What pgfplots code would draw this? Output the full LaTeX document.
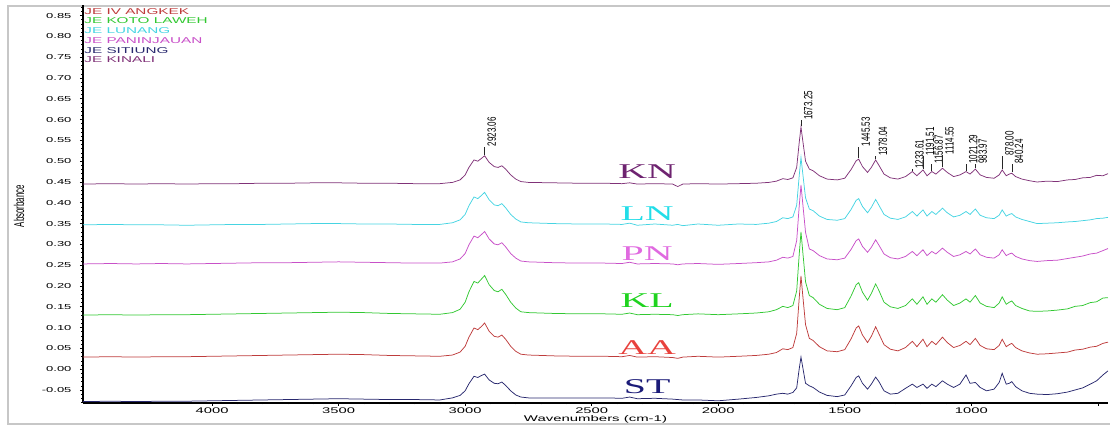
\documentclass[border=0pt]{standalone}
\usepackage{pgfplots}
\pgfplotsset{compat=1.18}
\usepackage{pgfplotstable}
\usepackage{fontspec}
\setmainfont{Liberation Sans}
\newfontfamily\wsans[FakeStretch=1.8]{Liberation Sans}
\newfontfamily\wserif[FakeStretch=1.9]{Liberation Serif}

\definecolor{cKN}{RGB}{128,50,120}
\definecolor{cLN}{RGB}{70,212,226}
\definecolor{cPN}{RGB}{200,80,200}
\definecolor{cKL}{RGB}{50,200,50}
\definecolor{cAA}{RGB}{190,60,60}
\definecolor{cST}{RGB}{40,40,110}
\definecolor{tKN}{RGB}{110,35,112}
\definecolor{tLN}{RGB}{34,221,232}
\definecolor{tPN}{RGB}{224,106,224}
\definecolor{tKL}{RGB}{31,211,31}
\definecolor{tAA}{RGB}{232,65,60}
\definecolor{tST}{RGB}{27,27,120}

% absorbance, one column per sample
\pgfplotstableread{
wn KN LN PN KL AA ST
4510 0.445 0.347 0.253 0.130 0.029 -0.078
4400 0.446 0.348 0.254 0.131 0.030 -0.077
4300 0.445 0.347 0.253 0.130 0.029 -0.078
4200 0.446 0.347 0.254 0.131 0.030 -0.077
4100 0.445 0.346 0.253 0.131 0.030 -0.077
4000 0.446 0.347 0.254 0.132 0.031 -0.076
3900 0.446 0.348 0.255 0.133 0.032 -0.075
3800 0.447 0.348 0.256 0.134 0.033 -0.074
3700 0.447 0.349 0.256 0.135 0.034 -0.073
3600 0.448 0.350 0.257 0.136 0.035 -0.072
3500 0.448 0.350 0.258 0.137 0.036 -0.071
3400 0.447 0.349 0.257 0.136 0.035 -0.072
3300 0.447 0.349 0.256 0.134 0.033 -0.073
3200 0.446 0.348 0.255 0.133 0.032 -0.073
3100 0.446 0.348 0.255 0.132 0.031 -0.074
3050 0.449 0.352 0.258 0.136 0.034 -0.069
3020 0.455 0.359 0.265 0.144 0.041 -0.063
3000 0.467 0.372 0.278 0.161 0.055 -0.052
2985 0.485 0.393 0.299 0.186 0.077 -0.035
2965 0.503 0.414 0.320 0.211 0.099 -0.017
2950 0.500 0.410 0.316 0.207 0.095 -0.020
2935 0.507 0.418 0.324 0.217 0.103 -0.015
2923 0.513 0.425 0.331 0.225 0.111 -0.012
2905 0.497 0.407 0.313 0.203 0.091 -0.026
2885 0.487 0.395 0.301 0.189 0.079 -0.034
2870 0.485 0.393 0.299 0.186 0.077 -0.035
2855 0.489 0.398 0.304 0.192 0.082 -0.031
2840 0.481 0.388 0.294 0.180 0.072 -0.039
2820 0.467 0.372 0.278 0.161 0.055 -0.052
2800 0.457 0.361 0.267 0.147 0.043 -0.062
2780 0.451 0.354 0.260 0.138 0.036 -0.067
2750 0.449 0.352 0.258 0.136 0.034 -0.069
2650 0.448 0.350 0.256 0.134 0.032 -0.069
2550 0.447 0.349 0.255 0.133 0.031 -0.069
2450 0.447 0.349 0.255 0.133 0.031 -0.069
2380 0.446 0.348 0.254 0.132 0.030 -0.070
2350 0.448 0.351 0.257 0.135 0.033 -0.067
2320 0.445 0.346 0.253 0.131 0.029 -0.071
2250 0.446 0.349 0.254 0.132 0.030 -0.070
2180 0.445 0.346 0.253 0.131 0.028 -0.072
2160 0.439 0.348 0.251 0.129 0.026 -0.073
2140 0.445 0.345 0.253 0.131 0.029 -0.074
2080 0.446 0.349 0.254 0.133 0.031 -0.074
2000 0.445 0.346 0.252 0.131 0.029 -0.076
1920 0.446 0.349 0.254 0.133 0.031 -0.072
1850 0.447 0.348 0.256 0.135 0.033 -0.068
1800 0.449 0.351 0.258 0.138 0.036 -0.064
1770 0.452 0.355 0.262 0.143 0.040 -0.060
1745 0.458 0.364 0.269 0.151 0.049 -0.058
1725 0.456 0.362 0.267 0.148 0.047 -0.060
1705 0.460 0.366 0.271 0.153 0.052 -0.056
1690 0.485 0.394 0.309 0.188 0.086 -0.045
1680 0.545 0.465 0.392 0.276 0.171 0.001
1673 0.582 0.509 0.443 0.330 0.224 0.029
1665 0.545 0.465 0.392 0.276 0.171 0.001
1655 0.500 0.412 0.329 0.210 0.107 -0.034
1640 0.481 0.385 0.289 0.177 0.074 -0.040
1625 0.477 0.381 0.285 0.172 0.069 -0.044
1600 0.465 0.368 0.273 0.156 0.054 -0.055
1570 0.457 0.360 0.265 0.146 0.044 -0.063
1530 0.455 0.358 0.263 0.143 0.042 -0.066
1500 0.459 0.362 0.267 0.148 0.047 -0.062
1475 0.480 0.384 0.288 0.176 0.073 -0.040
1455 0.501 0.406 0.309 0.203 0.099 -0.020
1445 0.505 0.410 0.313 0.208 0.104 -0.016
1430 0.487 0.391 0.295 0.185 0.082 -0.034
1410 0.473 0.376 0.281 0.166 0.064 -0.048
1395 0.485 0.389 0.293 0.182 0.079 -0.036
1378 0.503 0.408 0.311 0.205 0.102 -0.019
1365 0.490 0.394 0.298 0.189 0.085 -0.030
1345 0.469 0.372 0.277 0.161 0.059 -0.052
1320 0.460 0.363 0.268 0.150 0.048 -0.060
1290 0.457 0.360 0.265 0.146 0.044 -0.058
1260 0.463 0.366 0.271 0.153 0.052 -0.046
1233 0.475 0.379 0.283 0.169 0.067 -0.036
1215 0.465 0.368 0.273 0.156 0.054 -0.044
1191 0.479 0.383 0.287 0.174 0.072 -0.036
1175 0.465 0.368 0.273 0.156 0.054 -0.046
1156 0.475 0.379 0.283 0.169 0.067 -0.036
1140 0.469 0.372 0.277 0.161 0.059 -0.042
1114 0.483 0.387 0.291 0.179 0.077 -0.028
1095 0.473 0.376 0.281 0.166 0.064 -0.036
1070 0.463 0.366 0.271 0.153 0.052 -0.044
1045 0.467 0.370 0.275 0.159 0.057 -0.036
1021 0.475 0.379 0.283 0.169 0.067 -0.014
1005 0.469 0.372 0.277 0.161 0.059 -0.034
984 0.481 0.385 0.289 0.177 0.074 -0.032
965 0.467 0.370 0.275 0.159 0.057 -0.044
940 0.461 0.364 0.269 0.151 0.049 -0.052
910 0.459 0.362 0.267 0.148 0.047 -0.048
890 0.467 0.370 0.275 0.159 0.057 -0.032
878 0.479 0.383 0.287 0.174 0.072 -0.010
862 0.465 0.368 0.273 0.156 0.054 -0.036
850 0.469 0.372 0.277 0.161 0.059 -0.034
840 0.471 0.374 0.279 0.164 0.062 -0.030
825 0.463 0.366 0.271 0.153 0.052 -0.042
800 0.457 0.360 0.265 0.146 0.044 -0.052
770 0.453 0.355 0.261 0.140 0.039 -0.058
740 0.450 0.350 0.259 0.139 0.036 -0.060
700 0.452 0.351 0.261 0.140 0.037 -0.061
660 0.451 0.352 0.262 0.142 0.039 -0.059
620 0.455 0.354 0.266 0.145 0.041 -0.055
590 0.456 0.355 0.269 0.151 0.046 -0.050
560 0.460 0.357 0.272 0.153 0.048 -0.045
530 0.461 0.359 0.277 0.160 0.053 -0.036
505 0.466 0.362 0.279 0.162 0.055 -0.028
480 0.465 0.363 0.285 0.171 0.062 -0.014
460 0.470 0.365 0.290 0.172 0.065 -0.004
}\spectra

% peak marker: wavenumber, line from, line to, label
\newcommand\pk[4]{%
  \draw[black!85, line width=0.5pt] (axis cs:#1,#2) -- (axis cs:#1,#3);
  \node[xshift=2.5pt, rotate=90, anchor=north west, inner sep=0.3pt] at (axis cs:#1,#3)
    {\scalebox{1}[1.5]{\fontsize{8}{8}\selectfont #4}};}

\begin{document}
\begin{tikzpicture}
\useasboundingbox (-83pt,-24pt) rectangle (1027pt,403pt);
\draw[black!22, line width=1.3pt] (1027pt,-21pt) -- (-75pt,-21pt) -- (-75pt,397pt) -- (1027pt,397pt);
\begin{axis}[
  scale only axis, width=1025pt, height=398pt,
  x dir=reverse, xmin=460, xmax=4510, ymin=-0.0813, ymax=0.8755,
  axis x line*=bottom, axis y line*=left,
  axis line style={black, line width=1.2pt},
  clip=false,
  xtick={1000,1500,...,4000}, extra x ticks={500}, extra x tick labels={},
  minor x tick num=4,
  ytick distance=0.05, minor y tick num=4,
  tick align=outside, major tick length=3pt, minor tick length=1.5pt,
  every tick/.style={black, line width=0.6pt},
  tick label style={/pgf/number format/assume math mode=true},
  yticklabel style={font=\wsans\fontsize{7.2}{8}\selectfont, /pgf/number format/fixed,
    /pgf/number format/fixed zerofill, /pgf/number format/precision=2, xshift=-5pt},
  xticklabel style={font=\wsans\fontsize{8.2}{9}\selectfont, yshift=2pt,
    /pgf/number format/set thousands separator={}},
  xlabel={Wavenumbers (cm-1)},
  every axis x label/.style={at={(axis description cs:0.5,-0.041)}, anchor=center,
    font=\wsans\fontsize{8.3}{9}\selectfont},
  ylabel={\scalebox{1}[1.8]{\fontsize{7.9}{8}\selectfont Absorbance}},
  every axis y label/.style={at={(axis description cs:-0.0624,0.495)}, rotate=90, anchor=center},
]
\addplot[cST, line width=0.75pt] table[x=wn, y=ST] {\spectra};
\addplot[cAA, line width=0.75pt] table[x=wn, y=AA] {\spectra};
\addplot[cKL, line width=0.75pt] table[x=wn, y=KL] {\spectra};
\addplot[cPN, line width=0.75pt] table[x=wn, y=PN] {\spectra};
\addplot[cLN, line width=0.75pt] table[x=wn, y=LN] {\spectra};
\addplot[cKN, line width=0.75pt] table[x=wn, y=KN] {\spectra};

% sample names
\begin{scope}[every node/.style={font=\wserif\fontsize{21}{21}\selectfont, anchor=center, inner sep=0pt}]
\node[text=tKN] at (axis cs:2281,0.474) {KN};
\node[text=tLN] at (axis cs:2281,0.373) {LN};
\node[text=tPN] at (axis cs:2281,0.277) {PN};
\node[text=tKL] at (axis cs:2281,0.164) {KL};
\node[text=tAA] at (axis cs:2281,0.053) {AA};
\node[text=tST] at (axis cs:2281,-0.043) {ST};
\end{scope}

% legend text, top left
\begin{scope}[every node/.style={font=\wsans\fontsize{8.5}{9}\selectfont, anchor=west, inner sep=0pt}]
\node[text=cAA] at (axis cs:4505,0.860) {JE IV ANGKEK};
\node[text=cKL] at (axis cs:4505,0.837) {JE KOTO LAWEH};
\node[text=cLN] at (axis cs:4505,0.813) {JE LUNANG};
\node[text=cPN] at (axis cs:4505,0.790) {JE PANINJAUAN};
\node[text=cST] at (axis cs:4505,0.767) {JE SITIUNG};
\node[text=cKN] at (axis cs:4505,0.743) {JE KINALI};
\end{scope}

% peak picks on the KN spectrum
\pk{2923.06}{0.515}{0.535}{2923.06}
\pk{1673.25}{0.584}{0.598}{1673.25}
\pk{1445.53}{0.507}{0.535}{1445.53}
\pk{1378.04}{0.505}{0.512}{1378.04}
\pk{1233.61}{0.477}{0.481}{1233.61}
\pk{1191.51}{0.481}{0.512}{1191.51}
\pk{1156.87}{0.477}{0.493}{1156.87}
\pk{1114.55}{0.485}{0.515}{1114.55}
\pk{1021.29}{0.477}{0.493}{1021.29}
\pk{983.97}{0.483}{0.493}{983.97}
\pk{878.00}{0.481}{0.512}{878.00}
\pk{840.24}{0.473}{0.493}{840.24}
\end{axis}
\end{tikzpicture}
\end{document}
